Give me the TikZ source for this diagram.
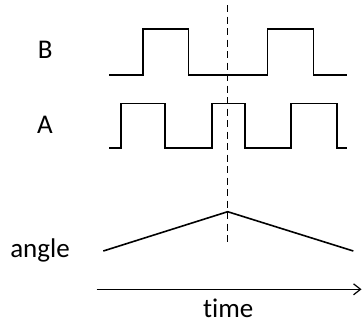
\documentclass[tikz,border=0pt]{standalone}
\usepackage{fontspec}
\setmainfont[Ligatures=NoCommon]{Carlito}
\usetikzlibrary{arrows.meta}
\begin{document}
\begin{tikzpicture}[x=1pt,y=-1pt,
  wave/.style={line width=1.6pt,line join=miter},
  lbl/.style={font=\fontsize{27}{32}\selectfont,inner sep=0pt,anchor=base,text depth=0pt},
  dashv/.style={line width=1.5pt,dash pattern=on 7pt off 4.5pt}]
\useasboundingbox (0,0) rectangle (362,322);
% labels
\node[lbl] (B) at (45.3,58.3) {B};
\node[lbl] (A) at (45,133.3) {A};
\node[lbl] (angle) at (40,257.3) {angle};
\node[lbl] (time) at (228.3,317) {time};
% B waveform
\draw[wave] (109,75) -- (142.7,75) -- (142.7,29) -- (188.3,29) -- (188.3,75)
  -- (267.3,75) -- (267.3,29) -- (313.3,29) -- (313.3,75) -- (347.3,75);
% A waveform
\draw[wave] (109,147.7) -- (120.7,147.7) -- (120.7,103.3) -- (165,103.3) -- (165,147.7)
  -- (211.7,147.7) -- (211.7,103.3) -- (245,103.3) -- (245,147.7)
  -- (291,147.7) -- (291,103.3) -- (336.7,103.3) -- (336.7,147.7) -- (347.3,147.7);
% angle
\coordinate (a0) at (103.3,251);
\coordinate (peak) at (227.7,211.7);
\coordinate (a1) at (353.3,251);
\draw[wave] (a0) -- (peak) -- (a1);
% dashed marker
\coordinate (dtop) at (227.7,5);
\coordinate (dbot) at (227.7,244);
\draw[dashv] (dtop) -- (dbot);
% time axis
\coordinate (t0) at (96.7,289.3);
\coordinate (t1) at (361.5,289.3);
\draw[line width=1.2pt,-{Straight Barb[length=7pt,width=11pt,line width=1.2pt]}] (t0) -- (t1);
\end{tikzpicture}
\end{document}
